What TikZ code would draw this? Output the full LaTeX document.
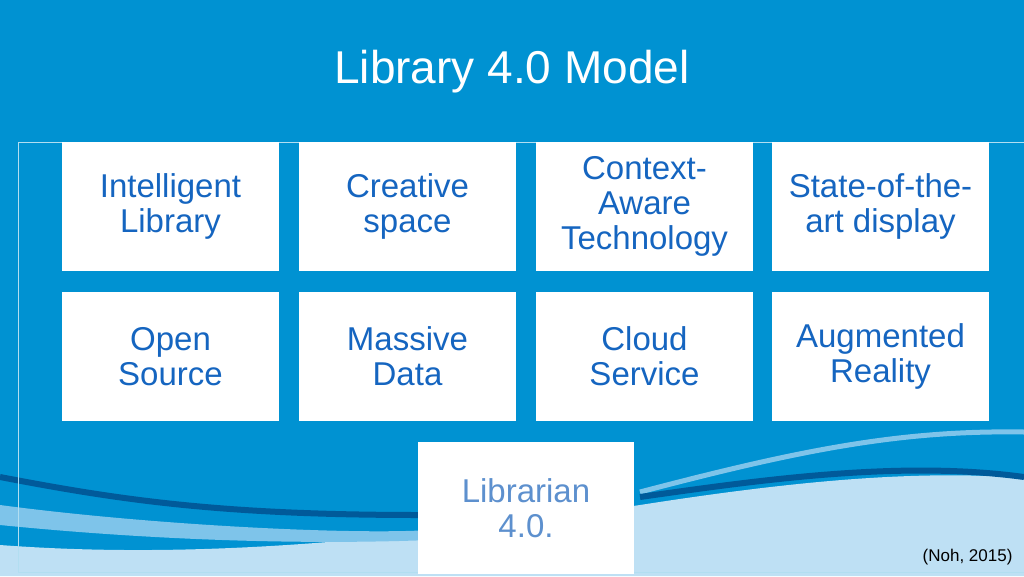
\documentclass[tikz,border=0pt]{standalone}
\usepackage{fontspec}
\setmainfont{Liberation Sans}
\definecolor{bgblue}{HTML}{0092D2}
\definecolor{txtblue}{HTML}{1565C0}
\definecolor{lightblue}{HTML}{BEE0F4}
\definecolor{deepblue}{HTML}{005A9A}
\definecolor{paleblue}{HTML}{7EC4EA}
\definecolor{libblue}{HTML}{5D90CE}
\begin{document}
\begin{tikzpicture}[x=1pt,y=-1pt,
  tile/.style={fill=white,minimum width=217pt,minimum height=129pt,inner sep=0pt,
    align=center,text=txtblue,font=\fontsize{33}{35}\selectfont}]
\useasboundingbox (0,0) rectangle (1024,576);
\fill[bgblue] (0,0) rectangle (1024,576);

%Waves
\fill[lightblue] (0,545) .. controls (200,560) and (400,540) .. (640,505) .. controls (800,480) and (920,470) .. (1024,478) -- (1024,576) -- (0,576) -- cycle;
\fill[paleblue] (0,505) .. controls (150,525) and (350,535) .. (430,530) -- (430,540) .. controls (300,545) and (150,540) .. (0,525) -- cycle;
\draw[paleblue,line width=5pt] (640,492) .. controls (800,450) and (900,430) .. (1024,432);
\draw[deepblue,line width=6pt] (0,477) .. controls (120,500) and (220,515) .. (420,515) (640,497) .. controls (760,480) and (900,460) .. (1024,477);

%Frame
\draw[white!70!bgblue,line width=0.8pt] (1024,142) -- (18,142) -- (18,572) -- (1024,572);

\node[text=white,font=\fontsize{46}{50}\selectfont] (title) at (512,72) {Library 4.0 Model};

%Tiles
\node[tile] (intel) at (170.5,206.5) {Intelligent\\Library};
\node[tile] (creat) at (407.5,206.5) {Creative\\space};
\node[tile] (ctx) at (644.5,206.5) {Context-\\Aware\\Technology};
\node[tile] (disp) at (880.5,206.5) {State-of-the-\\art display};
\node[tile] (open) at (170.5,356.5) {Open\\Source};
\node[tile] (mass) at (407.5,356.5) {Massive\\Data};
\node[tile] (cloud) at (644.5,356.5) {Cloud\\Service};
\node[tile] (aug) at (880.5,356.5) {Augmented\\Reality};
\node[tile,minimum width=216pt,minimum height=132pt,text=libblue] (lib) at (526,508) {Librarian\\4.0.};

\node[font=\fontsize{17}{18}\selectfont,anchor=east] (cite) at (1016,557) {(Noh, 2015)};
\end{tikzpicture}
\end{document}
